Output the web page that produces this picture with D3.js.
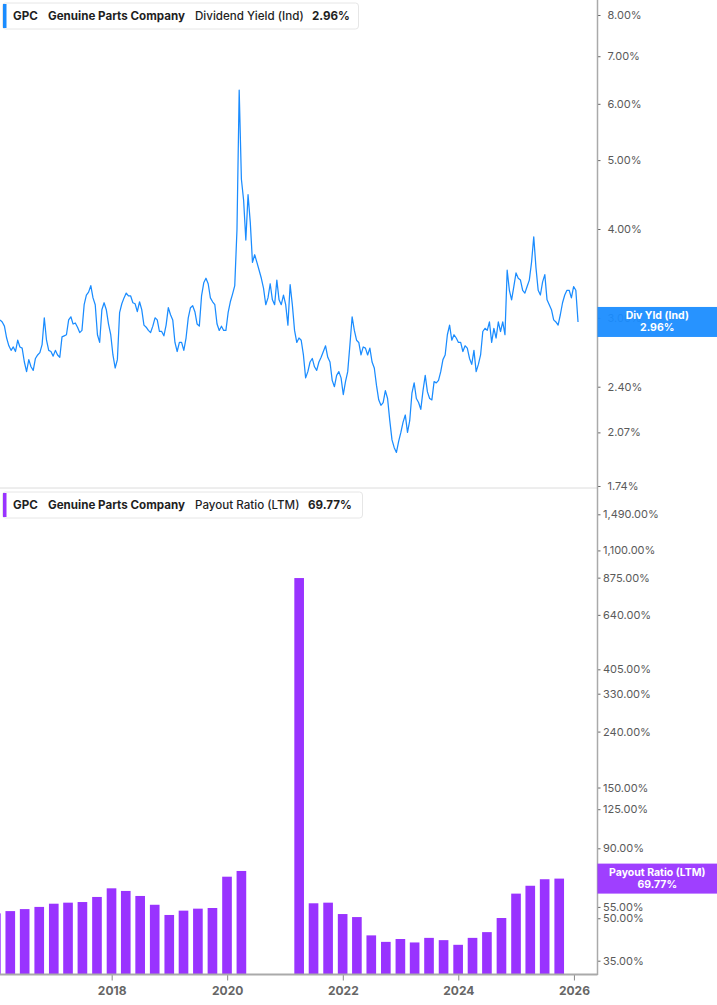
<!DOCTYPE html>
<html><head><meta charset="utf-8">
<script src="https://cdn.jsdelivr.net/npm/d3@7"></script>
<style>
body{margin:0;background:#fff;}
svg{display:block;font-family:Inter,"Noto Sans",sans-serif;}
</style></head><body>
<svg id="c" width="717" height="1005"></svg>
<script>
const ticker = "GPC";
const company = "Genuine Parts Company";
const topMetric = "Dividend Yield (Ind)";
const topLast = "2.96%";
const topTag = ["Div Yld (Ind)", "2.96%"];
const botMetric = "Payout Ratio (LTM)";
const botLast = "69.77%";
const botTag = ["Payout Ratio (LTM)", "69.77%"];

// Dividend yield (%), biweekly observations starting 2016-01-26
const yieldStart = "2016-01-26";
const yieldStepDays = 14;
const yieldValues = [
2.98,2.96,2.92,2.81,2.74,2.70,2.73,2.69,2.79,2.73,
2.72,2.60,2.52,2.62,2.56,2.53,2.63,2.66,2.68,2.75,
3.00,2.79,2.70,2.69,2.65,2.70,2.66,2.64,2.82,2.83,
2.84,2.98,3.01,2.94,2.95,2.91,2.86,2.88,3.13,3.23,
3.26,3.33,3.20,3.13,2.84,2.77,3.08,3.15,3.08,2.94,
2.84,2.66,2.55,2.62,3.05,3.14,3.20,3.25,3.22,3.22,
3.15,3.14,3.06,3.16,3.08,2.93,2.91,2.88,2.86,2.92,
3.00,2.98,2.87,2.87,2.83,2.93,3.10,3.03,2.98,2.77,
2.69,2.77,2.77,2.70,2.81,3.00,3.10,3.12,3.06,2.94,
2.92,3.22,3.36,3.41,3.35,3.20,3.16,3.13,2.94,2.88,
2.92,2.88,2.88,3.05,3.16,3.24,3.33,3.99,6.27,4.70,
4.39,3.86,4.47,4.09,3.59,3.68,3.59,3.50,3.41,3.30,
3.13,3.20,3.35,3.18,3.13,3.39,3.18,3.13,3.23,3.13,
2.93,3.34,3.13,2.88,2.77,2.81,2.79,2.66,2.47,2.52,
2.60,2.63,2.56,2.53,2.60,2.64,2.69,2.74,2.64,2.60,
2.45,2.40,2.49,2.52,2.47,2.34,2.44,2.52,2.75,3.01,
2.88,2.79,2.77,2.66,2.73,2.72,2.66,2.72,2.60,2.55,
2.41,2.30,2.26,2.28,2.37,2.31,2.15,2.02,1.97,1.94,
2.01,2.07,2.14,2.19,2.07,2.15,2.35,2.43,2.31,2.28,
2.23,2.37,2.49,2.36,2.31,2.30,2.44,2.43,2.45,2.52,
2.62,2.66,2.84,2.93,2.79,2.84,2.81,2.77,2.77,2.69,
2.74,2.72,2.63,2.58,2.70,2.52,2.58,2.66,2.87,2.90,
2.88,2.96,2.77,2.90,2.81,2.96,2.87,2.96,2.84,3.50,
3.28,3.18,3.32,3.47,3.41,3.39,3.28,3.25,3.32,3.39,
3.59,3.90,3.53,3.28,3.23,3.37,3.45,3.18,3.13,3.08,
2.98,2.96,2.93,3.03,3.15,3.23,3.28,3.28,3.20,3.32,
3.28,2.96
];

// Payout ratio LTM (%), quarterly (null = not meaningful / negative earnings)
const payoutDates = [
"2015-12-31","2016-03-31","2016-06-30","2016-09-30","2016-12-31",
"2017-03-31","2017-06-30","2017-09-30","2017-12-31",
"2018-03-31","2018-06-30","2018-09-30","2018-12-31",
"2019-03-31","2019-06-30","2019-09-30","2019-12-31",
"2020-03-31","2020-06-30","2020-09-30","2020-12-31",
"2021-03-31","2021-06-30","2021-09-30","2021-12-31",
"2022-03-31","2022-06-30","2022-09-30","2022-12-31",
"2023-03-31","2023-06-30","2023-09-30","2023-12-31",
"2024-03-31","2024-06-30","2024-09-30","2024-12-31",
"2025-03-31","2025-06-30","2025-09-30"
];
const payoutValues = [
52.1,53.1,54.0,55.0,56.5,
57.0,57.3,59.8,64.3,
62.9,60.3,56.0,51.4,
53.3,54.2,54.5,70.9,
74.4,null,null,null,
872,56.7,57.0,51.8,
50.5,43.3,41.0,42.0,
40.8,42.4,41.6,40.0,
42.4,44.5,50.1,61.5,
65.7,69.4,69.77
];

const yieldTicks = [1.74,2.07,2.40,3.00,4.00,5.00,6.00,7.00,8.00];
const payoutTicks = [35,50,55,90,125,150,240,330,405,640,875,1100,1490];
const yearTicks = [2018,2020,2022,2024,2026];

const blue = "#1a8cff", purple = "#9933ff";
const svg = d3.select("#c");
const parse = d3.timeParse("%Y-%m-%d");
const axisX = 597.5;

const x = d3.scaleTime()
  .domain([new Date(2016,0,26), new Date(2026,4,30)])
  .range([0, axisX]);
const y1 = d3.scaleLog().domain([1.74, 8]).range([486, 15]);
const y2 = d3.scaleLog().domain([35, 1490]).range([960.7, 514.3]);
const baseY = 974.5;
const pct = v => d3.format(",.2f")(v) + "%";

// panel separator
svg.append("line").attr("x1",0).attr("x2",axisX).attr("y1",488).attr("y2",488)
  .attr("stroke","#dcdcdc").attr("stroke-width",1);

// ---- top: dividend yield line
const t0 = parse(yieldStart);
const ydata = yieldValues.map((v,i)=>({d:d3.timeDay.offset(t0, yieldStepDays*i), v}));
svg.append("path").datum(ydata)
  .attr("fill","none").attr("stroke",blue).attr("stroke-width",1.25)
  .attr("stroke-linejoin","round")
  .attr("d", d3.line().x(d=>x(d.d)).y(d=>y1(d.v)));

// ---- bottom: payout bars
const qW = x(new Date(2020,3,1)) - x(new Date(2020,0,1));
const bw = qW*0.67;
const pdata = payoutDates.map((d,i)=>({d:parse(d), v:payoutValues[i]})).filter(d=>d.v!=null);
svg.append("g").selectAll("rect").data(pdata).join("rect")
  .attr("x", d=>x(d.d)-bw/2).attr("width", bw)
  .attr("y", d=>y2(d.v)).attr("height", d=>baseY - y2(d.v))
  .attr("fill", purple);

// ---- right axes
const yAxisTop = d3.axisRight(y1).tickValues(yieldTicks).tickFormat(pct).tickSize(3).tickPadding(7);
const gTop = svg.append("g").attr("transform",`translate(${axisX},0)`).call(yAxisTop);
const yAxisBot = d3.axisRight(y2).tickValues(payoutTicks).tickFormat(pct).tickSize(3).tickPadding(2.5);
const gBot = svg.append("g").attr("transform",`translate(${axisX},0)`).call(yAxisBot);
[gTop,gBot].forEach(g=>{
  g.select(".domain").remove();
  g.selectAll(".tick line").attr("stroke","#666");
  g.selectAll(".tick text").attr("fill","#5a5a5a").attr("font-size",11).attr("font-family","Inter");
});
svg.append("line").attr("x1",axisX).attr("x2",axisX).attr("y1",0).attr("y2",baseY+0.5)
  .attr("stroke","#aaa").attr("stroke-width",1.5);

// ---- x axis
const xAxis = d3.axisBottom(x).tickValues(yearTicks.map(yy=>new Date(yy,0,1)))
  .tickFormat(d3.timeFormat("%Y")).tickSize(6).tickPadding(6);
const gx = svg.append("g").attr("transform",`translate(0,${baseY})`).call(xAxis);
gx.select(".domain").remove();
gx.selectAll(".tick line").attr("stroke","#888");
gx.selectAll(".tick text").attr("fill","#666").attr("font-size",12).attr("font-weight",700).attr("font-family","Inter");
svg.append("line").attr("x1",0).attr("x2",axisX).attr("y1",baseY).attr("y2",baseY)
  .attr("stroke","#aaa").attr("stroke-width",2);

// ---- value tags
function tag(yc, color, lines){
  const h = 30;
  svg.append("rect").attr("x",axisX).attr("y",yc-h/2).attr("width",717-axisX).attr("height",h)
    .attr("fill",color).attr("fill-opacity",0.94);
  const cx = (axisX+717)/2;
  lines.forEach((t,i)=>{
    svg.append("text").attr("x",cx).attr("y",yc-2.5+i*11.5).attr("text-anchor","middle")
      .attr("fill","#fff").attr("font-size",10.5).attr("font-weight",700).text(t);
  });
}
tag(y1(2.96), blue, topTag);
tag(y2(69.77), purple, botTag);

// ---- legends
function legend(y0, color, metric, last, xs, w){
  const g = svg.append("g");
  g.append("rect").attr("x",2.5).attr("y",y0).attr("width",w).attr("height",26)
    .attr("rx",3).attr("fill","#fff").attr("stroke","#e6e6e6");
  g.append("rect").attr("x",3).attr("y",y0+1).attr("width",3.5).attr("height",24).attr("fill",color);
  const parts = [[ticker,700],[company,700],[metric,500],[last,700]];
  parts.forEach(([t,wt],i)=>{
    g.append("text").attr("x",xs[i]).attr("y",y0+17.2).attr("font-size",11.6)
      .attr("font-weight",wt).attr("fill","#1f1f1f").text(t);
  });
}
legend(3, blue, topMetric, topLast, [13,48,195,312], 356);
legend(492, purple, botMetric, botLast, [13,48,195,308], 360);
</script>
</body></html>
